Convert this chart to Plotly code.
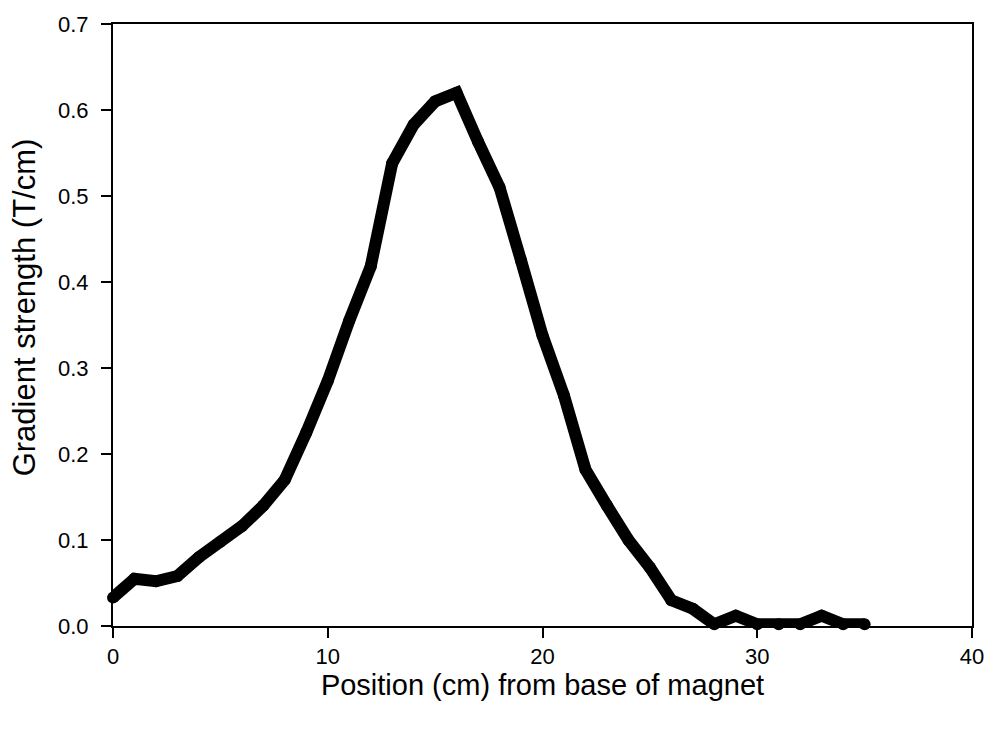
import plotly.graph_objects as go

# Gradient strength measured along the magnet axis
position_cm = [0, 1, 2, 3, 4, 5, 6, 7, 8, 9, 10, 11, 12, 13, 14, 15, 16, 17,
               18, 19, 20, 21, 22, 23, 24, 25, 26, 27, 28, 29, 30, 31, 32, 33,
               34, 35]
gradient_t_per_cm = [0.033, 0.055, 0.052, 0.058, 0.080, 0.098, 0.116, 0.140,
                     0.170, 0.225, 0.285, 0.355, 0.418, 0.538, 0.583, 0.610,
                     0.620, 0.563, 0.510, 0.425, 0.338, 0.268, 0.182, 0.140,
                     0.100, 0.068, 0.030, 0.020, 0.002, 0.012, 0.002, 0.002,
                     0.002, 0.012, 0.002, 0.002]

x_ticks = [0, 10, 20, 30, 40]
y_ticks = [0.0, 0.1, 0.2, 0.3, 0.4, 0.5, 0.6, 0.7]

x_title = "Position (cm) from base of magnet"
y_title = "Gradient strength (T/cm)"

FONT = "Liberation Sans, Arial, sans-serif"

fig = go.Figure()
fig.add_trace(go.Scatter(
    x=position_cm,
    y=gradient_t_per_cm,
    mode="lines+markers",
    line=dict(color="black", width=12),
    marker=dict(color="black", size=12),
    cliponaxis=False,
    showlegend=False,
))

fig.update_layout(
    width=996, height=731,
    margin=dict(l=113, r=18, t=21, b=105),
    paper_bgcolor="white", plot_bgcolor="white",
    xaxis=dict(
        range=[0, 40], tickmode="array", tickvals=x_ticks,
        showline=True, linecolor="black", linewidth=2, mirror=True,
        ticks="outside", ticklen=10, tickwidth=2, tickcolor="black",
        showgrid=False, zeroline=False,
        tickfont=dict(family=FONT, size=22, color="black"),
        title=dict(text=x_title,
                   font=dict(family=FONT, size=29, color="black"), standoff=6),
    ),
    yaxis=dict(
        range=[0, 0.7], tickmode="array", tickvals=y_ticks, tickformat=".1f",
        showline=True, linecolor="black", linewidth=2, mirror=True,
        ticks="outside", ticklen=10, tickwidth=2, tickcolor="black",
        showgrid=False, zeroline=False,
        tickfont=dict(family=FONT, size=22, color="black"),
        ticklabelstandoff=8,
    ),
    annotations=[dict(
        text=y_title, textangle=-90, showarrow=False,
        xref="paper", yref="paper", x=-0.102, y=0.53,
        xanchor="center", yanchor="middle",
        font=dict(family=FONT, size=31, color="black"),
    )],
)

fig.write_html("out.html")
